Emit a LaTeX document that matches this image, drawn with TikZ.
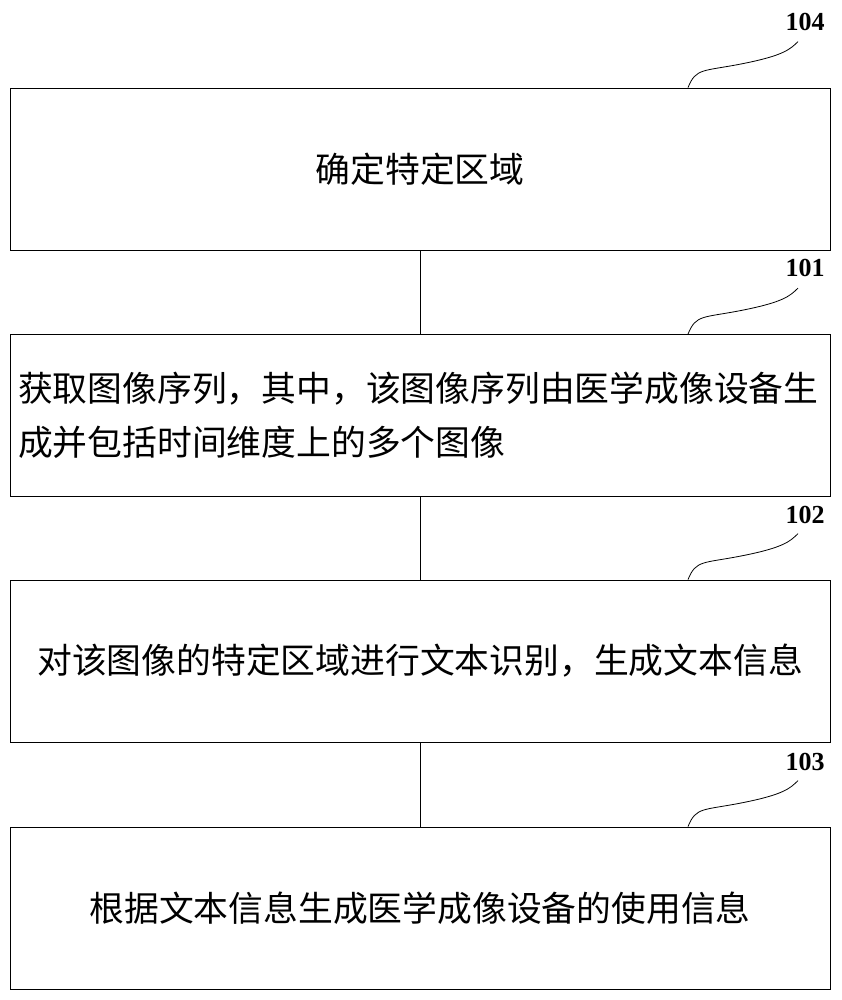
\documentclass[tikz,border=0pt]{standalone}
\usepackage{fontspec}
\newfontfamily\cjk{Noto Sans CJK SC}
\newfontfamily\numf{Liberation Serif}
\begin{document}
\begin{tikzpicture}[x=1pt,y=-1pt,
  box/.style={draw,line width=0.8pt,minimum width=820pt,minimum height=162pt,inner sep=0pt},
  txt/.style={font=\cjk\fontsize{34.8}{54}\selectfont},
  num/.style={font=\numf\bfseries\fontsize{26}{26}\selectfont},
  lead/.style={line width=0.8pt}]
\useasboundingbox (0,0) rectangle (842,1000);
\node[box] (b1) at (420,169) {};
\node[box] (b2) at (420,415.5) {};
\node[box] (b3) at (420,661) {};
\node[box] (b4) at (420,908) {};
\node[txt] (t1) at (420,169) {确定特定区域};
\node[txt,align=left,text width=812pt,inner sep=0pt] (t2) at (424,415) {获取图像序列，其中，该图像序列由医学成像设备生\\成并包括时间维度上的多个图像};
\node[txt] (t3) at (420,661) {对该图像的特定区域进行文本识别，生成文本信息};
\node[txt] (t4) at (420,908) {根据文本信息生成医学成像设备的使用信息};
\draw[lead] (b1.south) -- (b2.north);
\draw[lead] (b2.south) -- (b3.north);
\draw[lead] (b3.south) -- (b4.north);
\foreach \b/\n/\y in {b1/104/22,b2/101/268,b3/102/515,b4/103/762}{
  \node[num] (n\n) at (805,\y) {\n};
  \coordinate (s\n) at ([xshift=268pt]\b.north);
  \draw[lead] (s\n) .. controls +(8,-20) and +(-40,8) .. ++(55,-24) .. controls +(40,-8) and +(-8,8) .. ++(55,-22);
}
\end{tikzpicture}
\end{document}
